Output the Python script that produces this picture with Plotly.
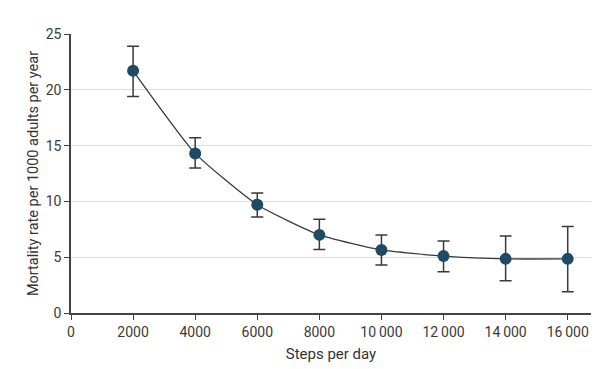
import plotly.graph_objects as go

steps = [2000, 4000, 6000, 8000, 10000, 12000, 14000, 16000]
rate = [21.7, 14.3, 9.7, 7.0, 5.65, 5.1, 4.85, 4.85]
upper = [23.9, 15.7, 10.75, 8.4, 7.0, 6.45, 6.9, 7.75]
lower = [19.4, 13.0, 8.6, 5.7, 4.3, 3.7, 2.9, 1.9]
x_ticks = [0, 2000, 4000, 6000, 8000, 10000, 12000, 14000, 16000]
x_tick_labels = ["0", "2000", "4000", "6000", "8000", "10\u2009000", "12\u2009000", "14\u2009000", "16\u2009000"]
y_ticks = [0, 5, 10, 15, 20, 25]

err_plus = [u - r for u, r in zip(upper, rate)]
err_minus = [r - l for r, l in zip(rate, lower)]

font_family = "Roboto, Arial, sans-serif"

fig = go.Figure()
fig.add_trace(go.Scatter(
    x=steps, y=rate,
    mode="lines+markers",
    line=dict(color="#3a3a3a", width=1.3, shape="spline", smoothing=0.5),
    marker=dict(color="#1f4a64", size=12),
    error_y=dict(type="data", symmetric=False, array=err_plus, arrayminus=err_minus,
                 color="#3a3a3a", thickness=1.5, width=6),
    showlegend=False,
))

# page body has an 8px margin, so the figure is offset by 8px
fig.update_layout(
    width=596, height=361,
    margin=dict(l=63, r=13, t=26, b=56),
    paper_bgcolor="white", plot_bgcolor="white",
    font=dict(family=font_family, size=14, color="#333333"),
    xaxis=dict(
        range=[0, 16750], tickvals=x_ticks, ticktext=x_tick_labels,
        showgrid=False, zeroline=False, automargin=False,
        showline=True, linecolor="#444444", linewidth=1.5,
        ticks="outside", ticklen=5, tickcolor="#444444",
        title=dict(text="Steps per day", standoff=10, font=dict(size=15)),
        tickfont=dict(size=14, color="#3a3a3a"),
    ),
    yaxis=dict(
        range=[0, 25], tickvals=y_ticks,
        showgrid=True, gridcolor="#dddddd", gridwidth=1,
        zeroline=False, automargin=False,
        showline=True, linecolor="#444444", linewidth=1.5,
        ticks="outside", ticklen=5, tickcolor="#444444",
        title=dict(text="Mortality rate per 1000 adults per year", standoff=4, font=dict(size=14.5)),
        tickfont=dict(size=14, color="#3a3a3a"),
    ),
)

fig.write_html("out.html")
